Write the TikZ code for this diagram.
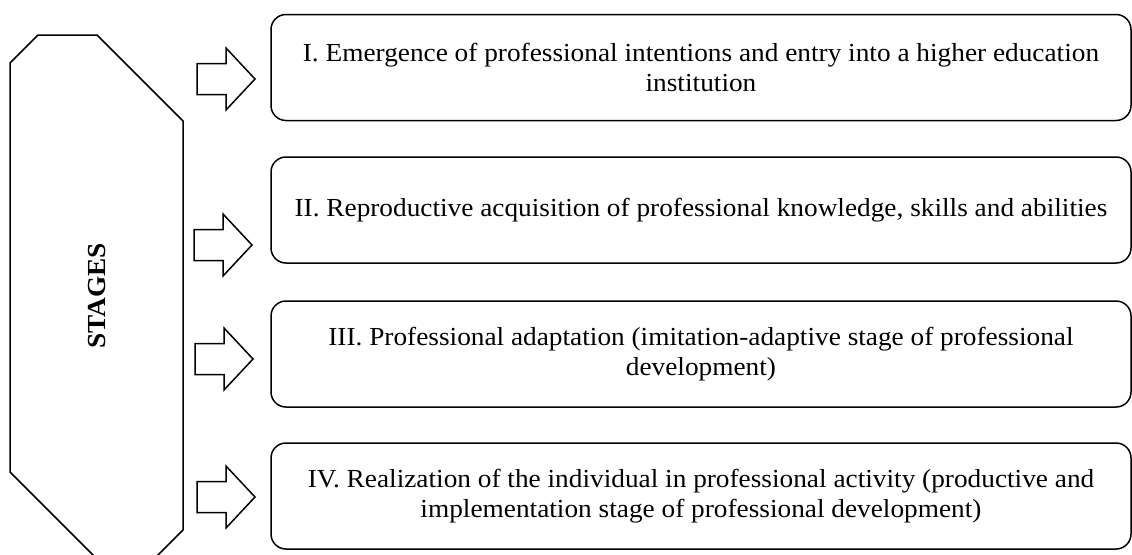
\documentclass[tikz,border=0pt]{standalone}
\usepackage{fontspec}
\setmainfont{Liberation Serif}[FakeStretch=1.05]
\begin{document}
\begin{tikzpicture}[x=1pt,y=-1pt,
  outline/.style={draw=black,line width=1.5pt,line join=miter},
  stagebox/.style={outline,rounded corners=15pt,minimum width=860pt,minimum height=106pt,
    align=center,inner sep=0pt,font=\fontsize{26}{29.5}\selectfont},
  stagelabel/.style={font=\fontsize{26}{29}\selectfont\bfseries,rotate=90},
  pics/blockarrow/.style={code={
    \draw[outline] (0,-15.5) -- (29,-15.5) -- (29,-31) -- (58,0) -- (29,31)
      -- (29,15.5) -- (0,15.5) -- cycle;}}]
\useasboundingbox (0,0) rectangle (1132,554);
% left stage panel
\draw[outline] (38,35) -- (97,35) -- (183,121) -- (183,530) -- (155,558)
  -- (96,558) -- (10,472) -- (10,63) -- cycle;
\node[stagelabel] (stages) at (97,296) {STAGES};
% stage boxes
\node[stagebox] (s1) at (701,67.5) {I. Emergence of professional intentions and entry into a higher education\\institution};
\node[stagebox] (s2) at (701,210) {II. Reproductive acquisition of professional knowledge, skills and abilities};
\node[stagebox] (s3) at (701,354) {III. Professional adaptation (imitation-adaptive stage of professional\\development)};
\node[stagebox] (s4) at (701,496) {IV. Realization of the individual in professional activity (productive and\\implementation stage of professional development)};
% arrows pointing at the boxes
\pic at (197,79) {blockarrow};
\pic at (194,245) {blockarrow};
\pic at (195,359) {blockarrow};
\pic at (197,497) {blockarrow};
\end{tikzpicture}
\end{document}
